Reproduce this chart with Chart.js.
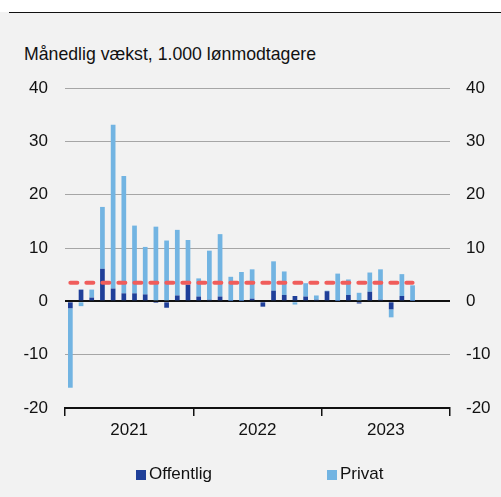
<!DOCTYPE html>
<html>
<head>
<meta charset="utf-8">
<script src="https://cdn.jsdelivr.net/npm/chart.js@4/dist/chart.umd.min.js"></script>
<style>
  html, body { margin: 0; padding: 0; background: #f2f2f2; }
  body { width: 501px; height: 497px; position: relative; overflow: hidden;
         font-family: "Liberation Sans", Arial, sans-serif; color: #111; }
  #topband { position: absolute; left: 0; top: 0; width: 501px; height: 12px; background: #fff; }
  #rule { position: absolute; left: 9px; top: 11.5px; width: 492px; height: 0; border-top: 1.5px solid #111; }
  #subtitle { position: absolute; left: 24px; top: 44px; font-size: 17.7px; white-space: nowrap; }
  #chartbox { position: absolute; left: 0; top: 0; width: 501px; height: 497px; }
  .leg { position: absolute; top: 464px; font-size: 17px; white-space: nowrap; }
  .leg i { position: absolute; top: 6px; width: 10px; height: 10px; }
</style>
</head>
<body>
<div id="topband"></div>
<div id="rule"></div>
<div id="subtitle">Månedlig vækst, 1.000 lønmodtagere</div>
<div id="chartbox"><canvas id="c" width="501" height="497"></canvas></div>
<div id="legend"></div>
<script>
// Monthly change in employees (thousands), Jan 2021 – Sep 2023
const yearLabels = ['2021', '2022', '2023'];
const monthNames = ['jan', 'feb', 'mar', 'apr', 'maj', 'jun', 'jul', 'aug', 'sep', 'okt', 'nov', 'dec'];
const months = yearLabels.flatMap(y => monthNames.map(m => m + ' ' + y));

const offentlig = [-1.3, 2.2, 0.7, 6.1, 2.4, 1.5, 1.5, 1.3, -0.3, -1.2, 1.1, 3.1,
                   0.9, 0.3, 0.9, 0.1, 0.1, 0.5, -1.0, 2.0, 1.2, 1.0, 0.9, 0.3,
                   1.9, 0.1, 1.2, -0.4, 1.8, 0.3, -1.5, 1.0, 0.1];
const privat = [-14.9, -0.9, 1.5, 11.6, 30.7, 22.0, 12.7, 8.9, 14.0, 11.4, 12.3, 8.4,
                3.4, 9.2, 11.7, 4.5, 5.4, 5.5, 0.0, 5.5, 4.4, -0.6, 2.5, 0.8,
                0.1, 5.1, 2.9, 1.6, 3.6, 5.7, -1.5, 4.1, 2.9];
// Average monthly growth, shown as a dashed reference level
const gennemsnit = [3.5, 3.5, 3.5, 3.5, 3.5, 3.5, 3.5, 3.5, 3.5, 3.5, 3.5, 3.5,
                    3.5, 3.5, 3.5, 3.5, 3.5, 3.5, 3.5, 3.5, 3.5, 3.5, 3.5, 3.5,
                    3.5, 3.5, 3.5, 3.5, 3.5, 3.5, 3.5, 3.5, 3.5];
const yTicks = [-20, -10, 0, 10, 20, 30, 40];

const FONT = { family: '"Liberation Sans", Arial, sans-serif', size: 17 };
const DARK = '#1f3f99';
const LIGHT = '#72b4e2';

const datasets = [
  { type: 'line', label: 'Gennemsnit', data: gennemsnit, stack: 'avg', order: 0,
    borderColor: '#f05d5b', borderWidth: 4, borderDash: [7, 9], borderCapStyle: 'round',
    pointRadius: 0, fill: false, xAxisID: 'x', yAxisID: 'y' },
  { type: 'bar', label: 'Offentlig', data: offentlig, stack: 'emp', order: 1,
    backgroundColor: DARK, barPercentage: 0.44, categoryPercentage: 1, xAxisID: 'x', yAxisID: 'y' },
  { type: 'bar', label: 'Privat', data: privat, stack: 'emp', order: 1,
    backgroundColor: LIGHT, barPercentage: 0.44, categoryPercentage: 1, xAxisID: 'x', yAxisID: 'y' }
];

new Chart(document.getElementById('c'), {
  type: 'bar',
  data: { labels: months, datasets },
  options: {
    responsive: false,
    animation: false,
    layout: { padding: { top: 88, bottom: 49, left: 0, right: 0 } },
    plugins: { legend: { display: false }, tooltip: { enabled: false } },
    scales: {
      x: { type: 'category', stacked: true, display: false, offset: true },
      // Year axis: month counter 0–36, tick marks at year boundaries, labels mid-year
      yr: {
        type: 'linear', axis: 'x', position: 'bottom', min: 0, max: months.length, offset: false,
        afterBuildTicks: s => { s.ticks = [0, 6, 12, 18, 24, 30, 36].map(v => ({ value: v })); },
        afterFit: s => { s.height = 40; },
        ticks: {
          autoSkip: false, maxRotation: 0, padding: 4, color: '#111', font: FONT,
          callback: v => (v % 12 === 6 ? yearLabels[(v - 6) / 12] : '')
        },
        grid: {
          offset: false, drawOnChartArea: false, drawTicks: true, tickLength: 8, lineWidth: 1.5,
          color: ctx => (ctx.tick && ctx.tick.value % 12 === 0 ? '#111' : 'rgba(0,0,0,0)')
        },
        border: { display: true, color: '#111', width: 2 }
      },
      y: {
        position: 'left', stacked: true, min: -20, max: 40,
        afterBuildTicks: s => { s.ticks = yTicks.map(v => ({ value: v })); },
        afterFit: s => { s.width = 65; },
        ticks: { color: '#111', font: FONT, padding: 17 },
        grid: {
          drawTicks: false, lineWidth: ctx => (ctx.tick && ctx.tick.value === 0 ? 2 : 1),
          color: ctx => {
            const v = ctx.tick && ctx.tick.value;
            if (v === 0) return '#111';
            if (v === -20) return 'rgba(0,0,0,0)';
            return '#a6a6a6';
          }
        },
        border: { display: false }
      },
      y2: {
        position: 'right', min: -20, max: 40,
        afterBuildTicks: s => { s.ticks = yTicks.map(v => ({ value: v })); },
        afterFit: s => { s.width = 51; },
        ticks: { color: '#111', font: FONT, padding: 16 },
        grid: { display: false, drawTicks: false },
        border: { display: false }
      }
    }
  }
});

// Legend for the two bar series
const legend = document.getElementById('legend');
[{ label: datasets[1].label, color: DARK, left: 136 },
 { label: datasets[2].label, color: LIGHT, left: 327 }].forEach(item => {
  const el = document.createElement('div');
  el.className = 'leg';
  el.style.left = item.left + 'px';
  el.innerHTML = '<i style="left:0;background:' + item.color + '"></i><span style="margin-left:13px">' + item.label + '</span>';
  legend.appendChild(el);
});
</script>
</body>
</html>
